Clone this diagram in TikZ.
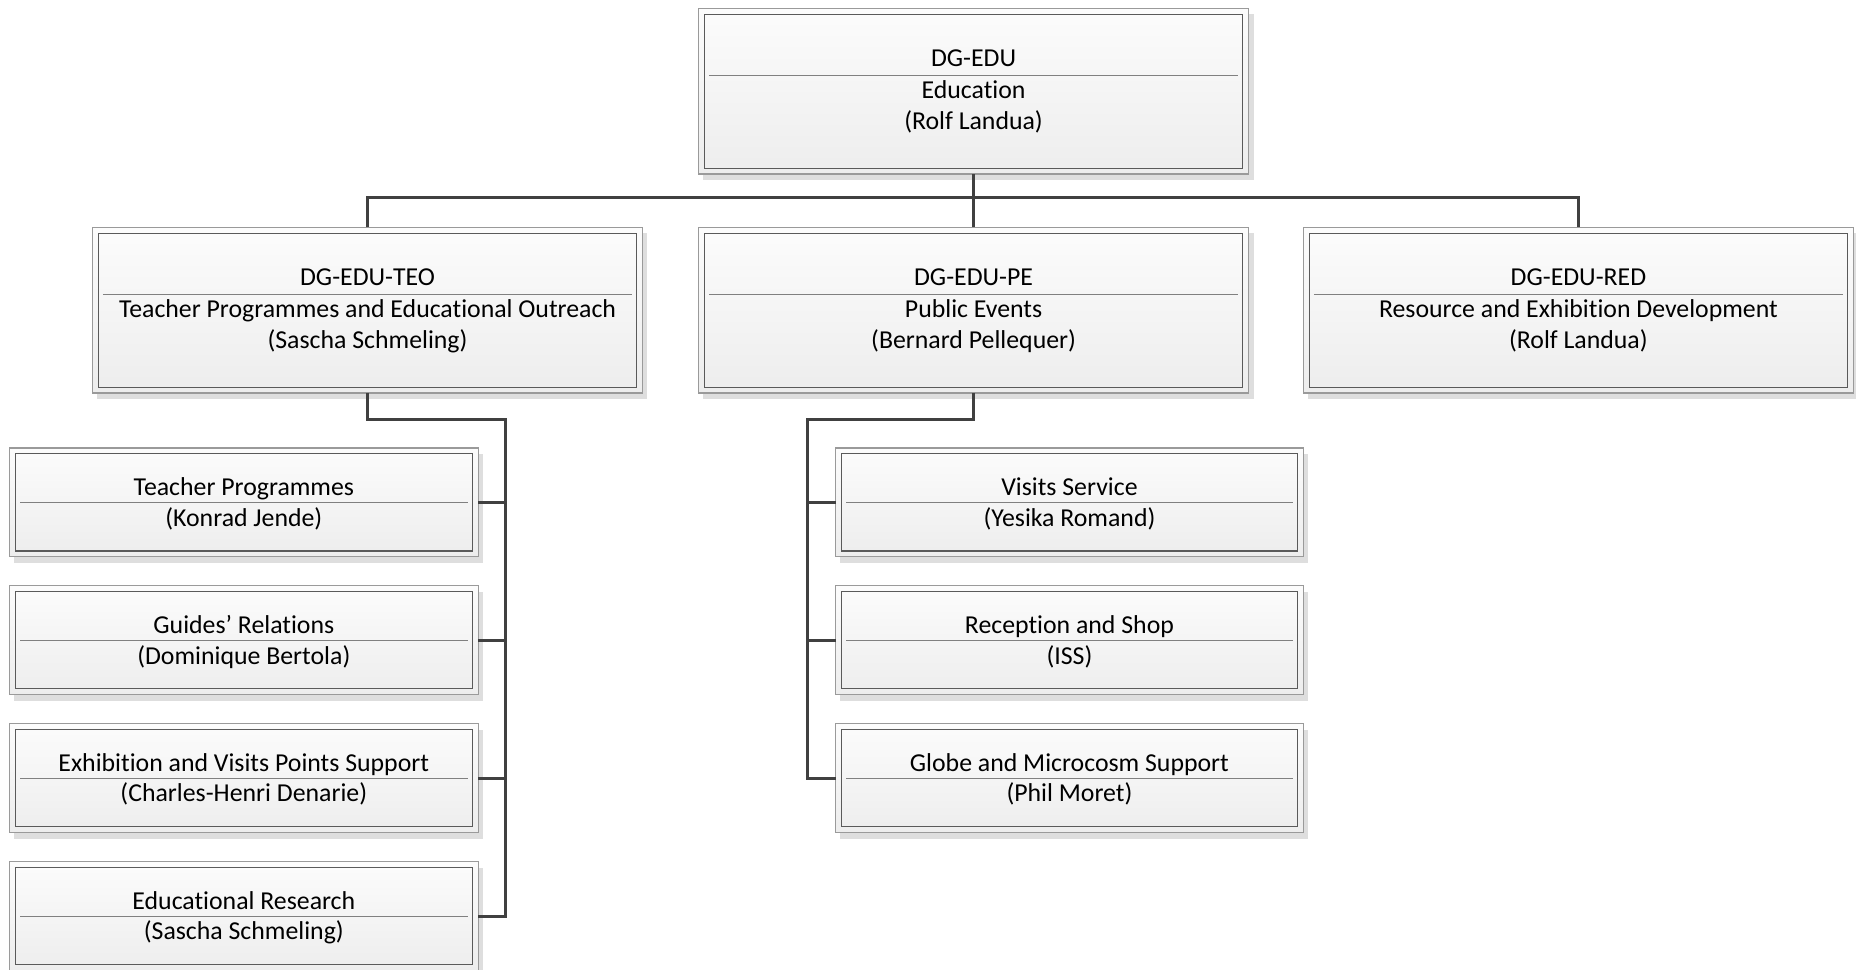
\documentclass[tikz,border=0pt]{standalone}
\usepackage{fontspec}
\setmainfont{Carlito}[Ligatures=NoCommon]
\usetikzlibrary{calc}
\definecolor{conn}{HTML}{404040}
\definecolor{outerc}{HTML}{9A9A9A}
\definecolor{innerc}{HTML}{5A5A5A}
\definecolor{sepc}{HTML}{808080}
\definecolor{shadc}{HTML}{DEDEDE}
\definecolor{topf}{HTML}{FCFCFC}
\definecolor{botf}{HTML}{EDEDED}
\tikzset{
  orgframe/.style={draw=outerc, line width=0.9pt, top color=topf, bottom color=botf, inner sep=0pt, outer sep=0pt, anchor=north west},
  innerframe/.style={draw=innerc, line width=0.9pt},
  sepline/.style={draw=sepc, line width=0.9pt},
  connector/.style={draw=conn, line width=2.7pt},
  boxtext/.style={anchor=base, inner sep=0pt, font=\fontsize{21.8}{26}\selectfont},
}
% name, x1, y1, x2, y2
\newcommand\orgbox[5]{%
  \fill[shadc] ({#2+4},{#3+5}) rectangle ({#4+4},{#5+5});
  \node[orgframe, minimum width={(#4-#2)*1pt}, minimum height={(#5-#3)*1pt}] (#1) at (#2,#3) {};
  \draw[innerframe] ([shift={(5pt,-5pt)}]#1.north west) rectangle ([shift={(-5pt,5pt)}]#1.south east);
}
% name, title, person
\newcommand\childtext[3]{%
  \draw[sepline] ([xshift=9pt]#1.west) -- ([xshift=-9pt]#1.east);
  \node[boxtext] (#1-t) at ([yshift=6pt]#1.center) {#2};
  \node[boxtext] (#1-p) at ([yshift=-20pt]#1.center) {#3};
}
% name, code, title, person
\newcommand\bigtext[4]{%
  \draw[sepline] ([xshift=9pt,yshift=13.5pt]#1.west) -- ([xshift=-9pt,yshift=13.5pt]#1.east);
  \node[boxtext] (#1-c) at ([yshift=20.5pt]#1.center) {#2};
  \node[boxtext] (#1-t) at ([yshift=-6.5pt]#1.center) {#3};
  \node[boxtext] (#1-p) at ([yshift=-32.5pt]#1.center) {#4};
}
\begin{document}
\begin{tikzpicture}[x=1pt,y=-1pt]
\useasboundingbox[fill=white] (0,0) rectangle (1568,819.45);

\orgbox{top}{590}{7}{1055}{147}
\bigtext{top}{DG-EDU}{Education}{(Rolf Landua)}

\orgbox{teo}{78}{192}{543}{332}
\bigtext{teo}{DG-EDU-TEO}{Teacher Programmes and Educational Outreach}{(Sascha Schmeling)}
\orgbox{pe}{590}{192}{1055}{332}
\bigtext{pe}{DG-EDU-PE}{Public Events}{(Bernard Pellequer)}
\orgbox{red}{1101}{192}{1566}{332}
\bigtext{red}{DG-EDU-RED}{Resource and Exhibition Development}{(Rolf Landua)}

\orgbox{c1}{8}{378.5}{404}{470.5}
\childtext{c1}{Teacher Programmes}{(Konrad Jende)}
\orgbox{c2}{8}{495}{404}{587}
\childtext{c2}{Guides’ Relations}{(Dominique Bertola)}
\orgbox{c3}{8}{611.5}{404}{703.5}
\childtext{c3}{Exhibition and Visits Points Support}{(Charles-Henri Denarie)}
\orgbox{c4}{8}{728}{404}{820}
\childtext{c4}{Educational Research}{(Sascha Schmeling)}

\orgbox{d1}{706}{378.5}{1101}{470.5}
\childtext{d1}{Visits Service}{(Yesika Romand)}
\orgbox{d2}{706}{495}{1101}{587}
\childtext{d2}{Reception and Shop}{(ISS)}
\orgbox{d3}{706}{611.5}{1101}{703.5}
\childtext{d3}{Globe and Microcosm Support}{(Phil Moret)}

% connectors
\coordinate (bus) at (822.5,167);
\coordinate (teobus) at (427,354.5);
\coordinate (pebus) at (682.5,354.5);
\draw[connector] (top.south) -- (pe.north);
\draw[connector] (teo.north) -- (teo.north |- bus) -- (red.north |- bus) -- (red.north);
\draw[connector] (teo.south) -- (teo.south |- teobus) -- (teobus) -- (teobus |- c4.east) -- (c4.east);
\foreach \c in {c1,c2,c3} \draw[connector] (\c.east) -- (\c.east -| teobus);
\draw[connector] (pe.south) -- (pe.south |- pebus) -- (pebus) -- (pebus |- d3.west) -- (d3.west);
\foreach \d in {d1,d2} \draw[connector] (\d.west) -- (\d.west -| pebus);
\end{tikzpicture}
\end{document}
